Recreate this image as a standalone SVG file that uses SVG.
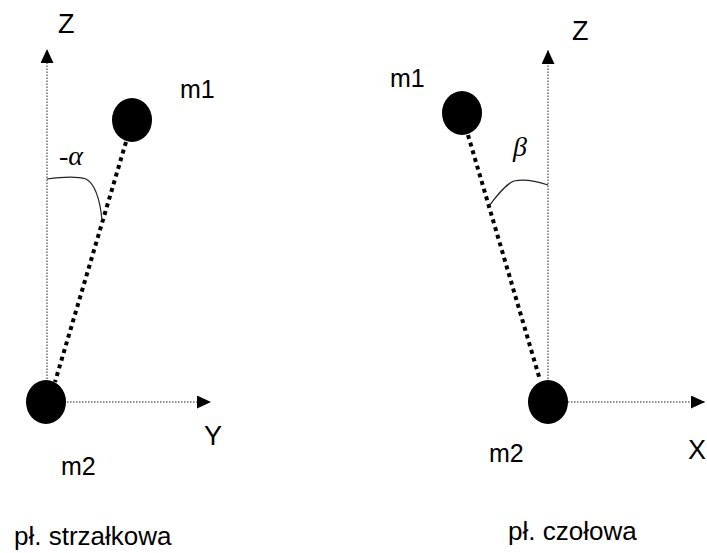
<svg xmlns="http://www.w3.org/2000/svg" width="707" height="553" viewBox="0 0 707 553">
<defs>
<style>
.axis{stroke:#222;stroke-width:1;stroke-dasharray:1.5 1.5;fill:none}
.rod{stroke:#000;stroke-width:4;stroke-dasharray:4 4;fill:none}
.arc{stroke:#222;stroke-width:1.2;fill:none}
.mass{fill:#000}
.t{font-family:"Liberation Sans",Arial,sans-serif;fill:#000}
.g{font-family:"Liberation Serif","DejaVu Serif",serif;font-style:italic;fill:#000}
</style>
<marker id="ah" viewBox="0 0 14 13" refX="14" refY="6.5" markerWidth="14" markerHeight="13" markerUnits="userSpaceOnUse" orient="auto">
<path d="M0,0 L14,6.5 L0,13 Z" fill="#000"/>
</marker>
</defs>
<rect width="707" height="553" fill="#fff"/>
<g id="connectors">
<line class="axis" x1="47" y1="382" x2="47" y2="49" marker-end="url(#ah)"/>
<line class="axis" x1="67" y1="402" x2="211" y2="402" marker-end="url(#ah)"/>
<line class="axis" x1="548" y1="382" x2="548" y2="50" marker-end="url(#ah)"/>
<line class="axis" x1="568" y1="402" x2="705" y2="402" marker-end="url(#ah)"/>
<line class="rod" x1="126" y1="142" x2="55" y2="382"/>
<line class="rod" x1="468" y1="135" x2="540" y2="380"/>
<path class="arc" d="M47,179 C62,177 76,176 86,179 C95,184 100,200 102,220"/>
<path class="arc" d="M548,185 C536,181 524,179 514,181 C506,184 498,194 489,206"/>
</g>
<g id="left-m1"><ellipse class="mass" cx="132" cy="120" rx="20" ry="22"/><text class="t" x="180" y="98" font-size="25">m1</text></g>
<g id="left-m2"><ellipse class="mass" cx="46" cy="402" rx="20" ry="22"/><text class="t" x="61" y="475" font-size="25">m2</text></g>
<g id="right-m1"><ellipse class="mass" cx="462" cy="113" rx="20" ry="22"/><text class="t" x="390" y="87" font-size="25">m1</text></g>
<g id="right-m2"><ellipse class="mass" cx="548" cy="402" rx="20" ry="22"/><text class="t" x="489" y="462" font-size="25">m2</text></g>
<g id="labels">
<text class="t" x="58" y="33" font-size="27">Z</text>
<text class="t" x="204" y="445" font-size="27">Y</text>
<text class="t" x="572" y="40" font-size="27">Z</text>
<text class="t" x="688" y="459" font-size="27">X</text>
<text class="g" x="59" y="165" font-size="28">-α</text>
<text class="g" x="513" y="156" font-size="28">β</text>
<text class="t" x="14" y="545" font-size="26">pł. strzałkowa</text>
<text class="t" x="508" y="540" font-size="26">pł. czołowa</text>
</g>
</svg>
